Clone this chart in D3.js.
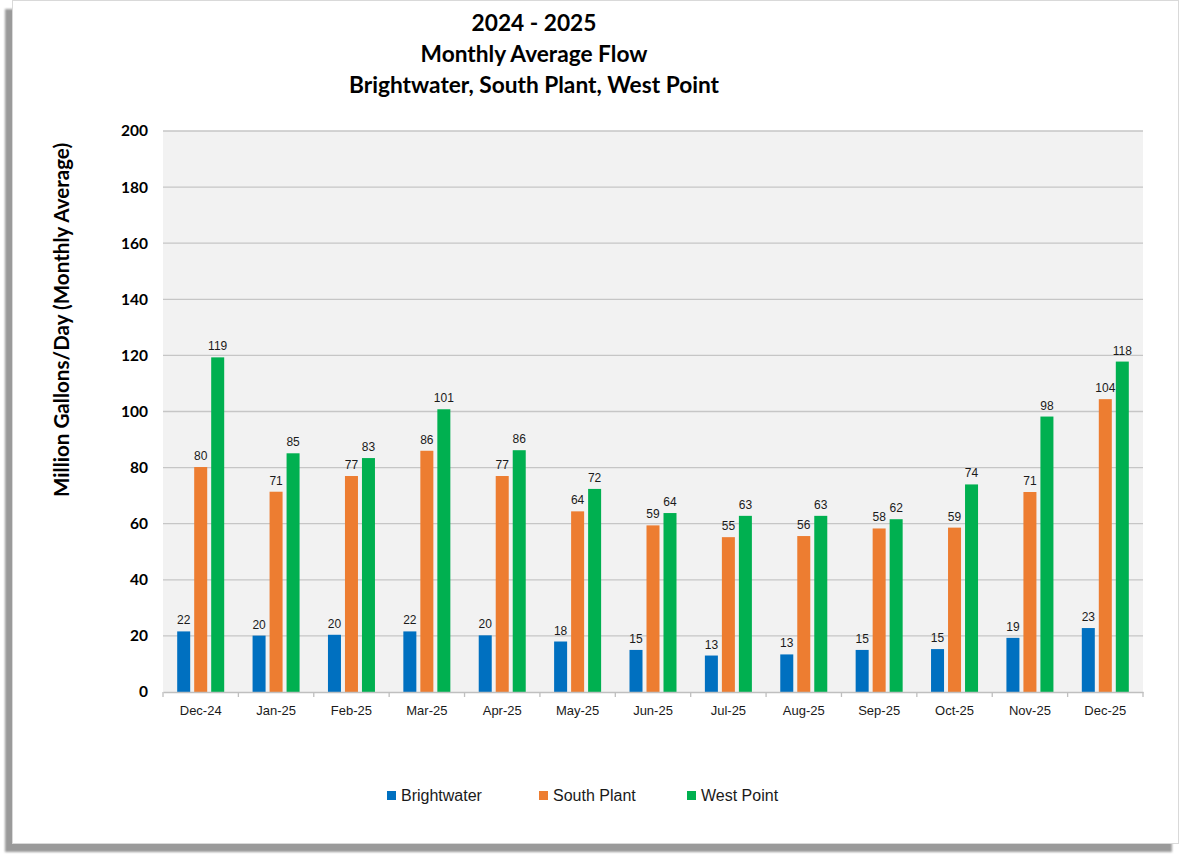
<!DOCTYPE html>
<html>
<head>
<meta charset="utf-8">
<script src="https://cdnjs.cloudflare.com/ajax/libs/d3/7.8.5/d3.min.js"></script>
<style>
  body { margin: 0; background: #ffffff; }
  svg { display: block; }
</style>
</head>
<body>
<div id="chart"></div>
<script>
// data
const months = ["Dec-24", "Jan-25", "Feb-25", "Mar-25", "Apr-25", "May-25", "Jun-25",
                "Jul-25", "Aug-25", "Sep-25", "Oct-25", "Nov-25", "Dec-25"];
const seriesNames = ["Brightwater", "South Plant", "West Point"];
const brightwater = [21.6, 20.1, 20.4, 21.6, 20.2, 18.0, 15.0, 13.0, 13.4, 15.0, 15.3, 19.3, 22.8];
const southPlant = [80.2, 71.4, 77.0, 86.0, 77.0, 64.4, 59.4, 55.2, 55.6, 58.3, 58.6, 71.3, 104.4];
const westPoint = [119.3, 85.1, 83.4, 100.8, 86.2, 72.4, 63.8, 62.8, 62.8, 61.6, 74.0, 98.2, 117.8];
const yTicks = [0, 20, 40, 60, 80, 100, 120, 140, 160, 180, 200];
const titleLines = ["2024 - 2025", "Monthly Average Flow", "Brightwater, South Plant, West Point"];

const seriesValues = [brightwater, southPlant, westPoint];
const colors = ["#0070c0", "#ed7d31", "#00b050"];

const width = 1180, height = 857;
const plot = {left: 163, right: 1143, top: 131, bottom: 692};

const svg = d3.select("#chart")
    .append("svg")
    .attr("width", width)
    .attr("height", height);

// soft shadow behind the panel
const defs = svg.append("defs");
defs.append("filter")
    .attr("id", "soft")
    .attr("x", "-2%").attr("y", "-2%")
    .attr("width", "104%").attr("height", "104%")
    .append("feGaussianBlur")
    .attr("stdDeviation", 1.2);

svg.append("rect")
    .attr("x", 5).attr("y", 9)
    .attr("width", 1167).attr("height", 843)
    .attr("fill", "#9a9a9a")
    .attr("filter", "url(#soft)");

svg.append("rect")
    .attr("x", 12.5).attr("y", 0.5)
    .attr("width", 1166).attr("height", 843)
    .attr("fill", "#ffffff")
    .attr("stroke", "#d9d9d9");

// scales
const x = d3.scaleBand()
    .domain(months)
    .range([plot.left, plot.right]);

const xSub = d3.scaleBand()
    .domain(seriesNames)
    .range([-25.5, 25.5])
    .paddingInner(0.235)
    .paddingOuter(0.1175);

const y = d3.scaleLinear()
    .domain([0, 200])
    .range([plot.bottom, plot.top]);

// plot background
svg.append("rect")
    .attr("x", plot.left).attr("y", plot.top)
    .attr("width", plot.right - plot.left)
    .attr("height", plot.bottom - plot.top)
    .attr("fill", "#f2f2f2");

// gridlines
svg.append("g")
    .selectAll("line")
    .data(yTicks.filter(d => d > 0))
    .enter().append("line")
    .attr("x1", plot.left).attr("x2", plot.right)
    .attr("y1", d => y(d)).attr("y2", d => y(d))
    .attr("stroke", "#c6c6c6")
    .attr("stroke-width", 1.3);

// y axis tick labels
const yAxis = svg.append("g")
    .attr("transform", "translate(" + plot.left + ",0)")
    .call(d3.axisLeft(y).tickValues(yTicks).tickSize(0).tickPadding(15));
yAxis.select(".domain").remove();
yAxis.selectAll("text")
    .attr("font-family", "Lato, 'Liberation Sans', sans-serif")
    .attr("font-weight", "bold")
    .attr("font-size", "15.5px")
    .attr("fill", "#000");

// bars
seriesNames.forEach((name, si) => {
    const vals = seriesValues[si];
    const g = svg.append("g");
    g.selectAll("rect")
        .data(months)
        .enter().append("rect")
        .attr("x", (m) => x(m) + x.bandwidth() / 2 + xSub(name))
        .attr("width", xSub.bandwidth())
        .attr("y", (m, i) => y(vals[i]))
        .attr("height", (m, i) => y(0) - y(vals[i]))
        .attr("fill", colors[si]);

    g.selectAll("text")
        .data(months)
        .enter().append("text")
        .attr("x", (m) => x(m) + x.bandwidth() / 2 + xSub(name) + xSub.bandwidth() / 2)
        .attr("y", (m, i) => y(vals[i]) - 7)
        .attr("text-anchor", "middle")
        .attr("font-family", "'Liberation Sans', Arial, sans-serif")
        .attr("font-size", "12px")
        .attr("fill", "#1a1a1a")
        .text((m, i) => Math.round(vals[i]));
});

// x axis
const xAxis = svg.append("g")
    .attr("transform", "translate(0," + plot.bottom + ")")
    .call(d3.axisBottom(x).tickSize(0).tickPadding(14));
xAxis.select(".domain")
    .attr("stroke", "#bfbfbf")
    .attr("stroke-width", 1.5);
xAxis.selectAll("text")
    .attr("font-family", "'Liberation Sans', Arial, sans-serif")
    .attr("font-size", "13px")
    .attr("fill", "#1a1a1a");

// tick marks between the categories
svg.append("g")
    .selectAll("line")
    .data(months.concat(["end"]))
    .enter().append("line")
    .attr("x1", (m, i) => i < months.length ? x(m) : plot.right)
    .attr("x2", (m, i) => i < months.length ? x(m) : plot.right)
    .attr("y1", plot.bottom)
    .attr("y2", plot.bottom + 5)
    .attr("stroke", "#bfbfbf")
    .attr("stroke-width", 1.3);

// title
svg.append("g")
    .selectAll("text")
    .data(titleLines)
    .enter().append("text")
    .attr("x", 534)
    .attr("y", (d, i) => 31 + i * 31)
    .attr("text-anchor", "middle")
    .attr("font-family", "Lato, 'Liberation Sans', sans-serif")
    .attr("font-weight", "bold")
    .attr("font-size", "22.7px")
    .attr("fill", "#000")
    .text(d => d);

// y axis title
svg.append("text")
    .attr("transform", "translate(69," + 320 + ") rotate(-90)")
    .attr("text-anchor", "middle")
    .attr("font-family", "Lato, 'Liberation Sans', sans-serif")
    .attr("font-weight", "bold")
    .attr("font-size", "20.6px")
    .attr("fill", "#000")
    .text("Million Gallons/Day (Monthly Average)");

// legend
const legendX = [387, 539, 687];
const legend = svg.append("g")
    .selectAll("g")
    .data(seriesNames)
    .enter().append("g")
    .attr("transform", (d, i) => "translate(" + legendX[i] + ",791)");
legend.append("rect")
    .attr("width", 9).attr("height", 9)
    .attr("fill", (d, i) => colors[i]);
legend.append("text")
    .attr("x", 14)
    .attr("y", 10)
    .attr("font-family", "'Liberation Sans', Arial, sans-serif")
    .attr("font-size", "16px")
    .attr("fill", "#1a1a1a")
    .text(d => d);
</script>
</body>
</html>
